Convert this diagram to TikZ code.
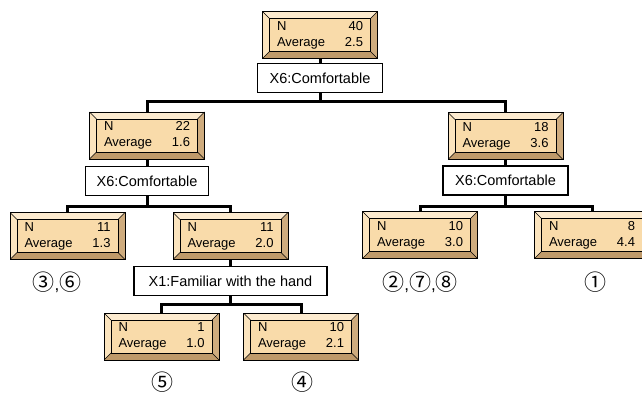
\documentclass[tikz,border=0pt]{standalone}
\usepackage{fontspec}
\setmainfont{Liberation Sans}
\newfontfamily\circfont{Noto Sans CJK JP}
\usetikzlibrary{positioning}

\definecolor{face}{HTML}{F9DBAA}
\definecolor{bevtop}{HTML}{FDEBCF}
\definecolor{bevleft}{HTML}{FBE4BE}
\definecolor{bevright}{HTML}{CFAC7E}
\definecolor{bevbot}{HTML}{BF9A6A}

\newcommand{\nodestat}[2]{\makebox[86pt]{N\hfill #1}\\\makebox[86pt]{Average\hfill #2}}
\newcommand{\cm}{{\fontsize{17}{20}\selectfont\rmfamily,}}

\begin{document}
\begin{tikzpicture}[
    x=1pt, y=-1pt,
    stat/.style={rectangle, draw, line width=0.7pt, fill=face,
                 minimum width=115pt, minimum height=47pt, inner sep=0pt,
                 align=center, font=\fontsize{13}{16}\selectfont,
                 path picture={
                   \coordinate (pnw) at (path picture bounding box.north west);
                   \coordinate (pne) at (path picture bounding box.north east);
                   \coordinate (psw) at (path picture bounding box.south west);
                   \coordinate (pse) at (path picture bounding box.south east);
                   \fill[bevtop] (pnw) -- (pne) -- ++(-7pt,-7pt) -- ([shift={(7pt,-7pt)}]pnw) -- cycle;
                   \fill[bevleft] (pnw) -- (psw) -- ++(7pt,7pt) -- ([shift={(7pt,-7pt)}]pnw) -- cycle;
                   \fill[bevright] (pne) -- (pse) -- ++(-7pt,7pt) -- ([shift={(-7pt,-7pt)}]pne) -- cycle;
                   \fill[bevbot] (psw) -- (pse) -- ++(-7pt,7pt) -- ([shift={(7pt,7pt)}]psw) -- cycle;
                   \draw[line width=0.5pt] ([shift={(7pt,-7pt)}]pnw) rectangle ([shift={(-7pt,7pt)}]pse);
                   \draw[line width=0.5pt] (pnw) -- ++(7pt,-7pt) (pne) -- ++(-7pt,-7pt)
                                           (psw) -- ++(7pt,7pt) (pse) -- ++(-7pt,7pt);
                 }},
    split/.style={rectangle, draw, line width=1.3pt, fill=white,
                  minimum height=29pt, inner sep=0pt,
                  font=\fontsize{14.5}{16}\selectfont},
    grp/.style={font=\circfont\fontsize{22}{24}\selectfont, inner sep=0pt},
    conn/.style={line width=3pt, line join=miter}
  ]
    \useasboundingbox (0,0) rectangle (642,393);
    % decision tree nodes
    \node[stat] (root) at (320,35) {\nodestat{40}{2.5}};
    \node[split, minimum width=125pt] (s0) at (320,78) {X6:Comfortable};
    \node[stat] (l1) at (147,135.5) {\nodestat{22}{1.6}};
    \node[stat] (r1) at (505.5,136) {\nodestat{18}{3.6}};
    \node[split, minimum width=123pt] (s1) at (147,181) {X6:Comfortable};
    \node[split, minimum width=125pt] (s2) at (505.5,180.5) {X6:Comfortable};
    \node[stat] (ll) at (67.5,236) {\nodestat{11}{1.3}};
    \node[stat] (lr) at (230.5,236) {\nodestat{11}{2.0}};
    \node[stat] (rl) at (420,235) {\nodestat{10}{3.0}};
    \node[stat] (rr) at (592,235) {\nodestat{8}{4.4}};
    \node[split, minimum width=193pt] (s3) at (230.5,281) {X1:Familiar with the hand};
    \node[stat] (lrl) at (161.5,336.5) {\nodestat{1}{1.0}};
    \node[stat] (lrr) at (301,336.5) {\nodestat{10}{2.1}};
    % group marks
    \node[grp] (g36) at (57,282) {③\cm⑥};
    \node[grp] (g278) at (420,282) {②\cm⑦\cm⑧};
    \node[grp] (g1) at (595,282) {①};
    \node[grp] (g5) at (162,382) {⑤};
    \node[grp] (g4) at (302,382) {④};
    % junctions
    \coordinate (j0) at (320,102);
    \coordinate (j1) at (147,206);
    \coordinate (j2) at (505.5,206);
    \coordinate (j3) at (230.5,304);
    % connectors
    \foreach \p/\s/\j in {root/s0/j0, l1/s1/j1, r1/s2/j2, lr/s3/j3} {
      \draw[conn] (\p.south) -- (\s.north);
      \draw[conn] (\s.south) -- (\j);
    }
    \foreach \j/\a/\b in {j0/l1/r1, j1/ll/lr, j2/rl/rr, j3/lrl/lrr}
      \draw[conn] (\a.north) |- (\j) -| (\b.north);
\end{tikzpicture}
\end{document}
